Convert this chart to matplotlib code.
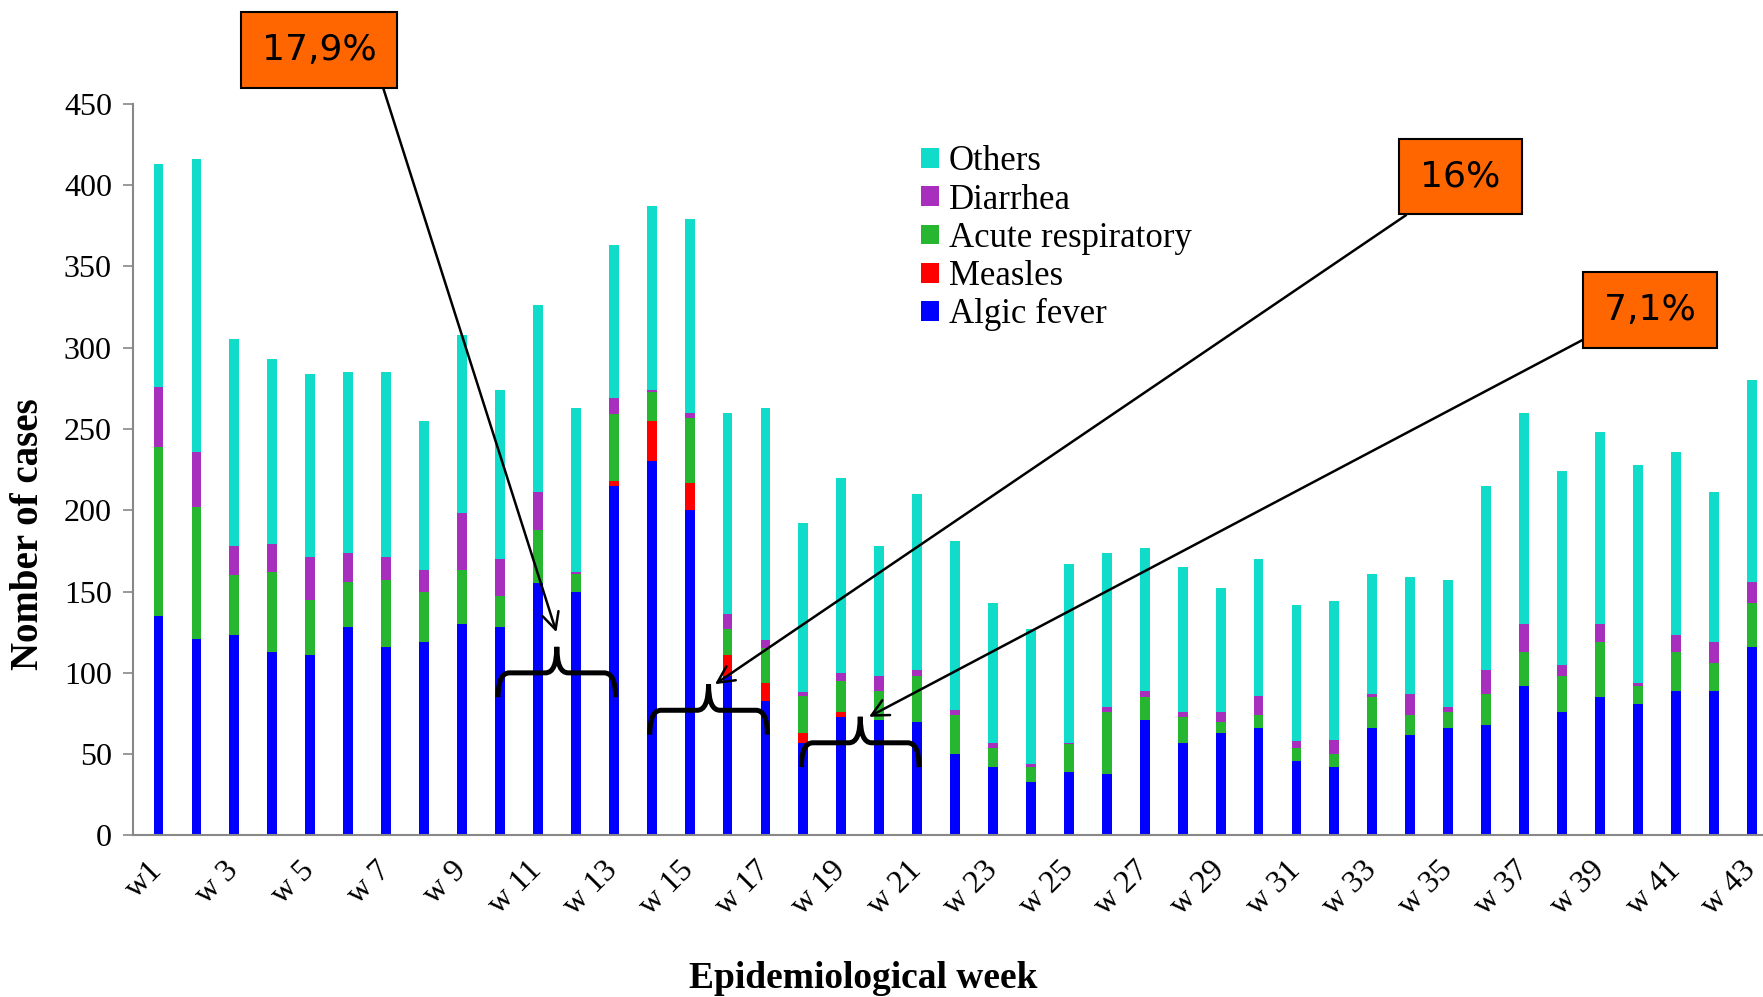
import matplotlib
matplotlib.use("Agg")
import matplotlib.pyplot as plt
import numpy as np
from matplotlib.patches import PathPatch
from matplotlib.path import Path

plt.rcParams["font.family"] = ["Liberation Serif", "DejaVu Serif"]

# weekly counts per syndrome (stack order: bottom to top)
weeks = np.arange(1, 44)
algic_fever = [135, 121, 123, 113, 111, 128, 116, 119, 130, 128, 155, 150, 215, 230, 200,
               98, 83, 57, 73, 71, 70, 50, 42, 33, 39, 38, 71, 57, 63, 66,
               46, 42, 66, 62, 66, 68, 92, 76, 85, 81, 89, 89, 116]
measles = [0, 0, 0, 0, 0, 0, 0, 0, 0, 0, 0, 0, 3, 25, 17,
           13, 11, 6, 3, 0, 0, 0, 0, 0, 0, 0, 0, 0, 0, 0,
           0, 0, 0, 0, 0, 0, 0, 0, 0, 0, 0, 0, 0]
acute_respiratory = [104, 81, 37, 49, 34, 28, 41, 31, 33, 19, 33, 11, 41, 18, 40,
                     16, 21, 23, 19, 18, 28, 24, 12, 9, 17, 38, 14, 16, 7, 8,
                     8, 8, 19, 12, 10, 19, 21, 22, 34, 11, 24, 17, 27]
diarrhea = [37, 34, 18, 17, 26, 18, 14, 13, 35, 23, 23, 1, 10, 1, 3,
            9, 5, 2, 5, 9, 4, 3, 3, 2, 1, 3, 4, 3, 6, 12,
            4, 9, 2, 13, 3, 15, 17, 7, 11, 2, 10, 13, 13]
others = [137, 180, 127, 114, 113, 111, 114, 92, 110, 104, 115, 101, 94, 113, 119,
          124, 143, 104, 120, 80, 108, 104, 86, 83, 110, 95, 88, 89, 76, 84,
          84, 85, 74, 72, 78, 113, 130, 119, 118, 134, 113, 92, 124]

series_names = ["Algic fever", "Measles", "Acute respiratory", "Diarrhea", "Others"]
series_colors = ["#0000FF", "#FF0000", "#27B62F", "#A82EBE", "#10DCC9"]

tick_weeks = weeks[::2]
tick_labels = ["w1"] + [f"w {w}" for w in tick_weeks[1:]]

# braces and call-outs
brace_weeks = [(10, 13), (14, 17), (18, 21)]
brace_levels = [100, 77, 57]
callout_texts = ["17,9%", "16%", "7,1%"]
callout_targets = [(11.49, 125), (15.67, 93), (19.73, 73)]
callout_boxes = [(0.181, 0.950), (0.8284, 0.823), (0.936, 0.689)]
callout_relpos = [(1.0, 0.0), (0.22, 0.0), (0.03, 0.0)]


def draw_brace(ax, x0, x1, y, drop=15, rise=16, dx=0.3):
    xc = (x0 + x1) / 2
    verts = [
        (x0, y - drop), (x0, y), (x0 + dx, y),
        (xc - dx, y),
        (xc, y), (xc, y + rise),
        (xc, y), (xc + dx, y),
        (x1 - dx, y),
        (x1, y), (x1, y - drop),
    ]
    codes = [Path.MOVETO, Path.CURVE3, Path.CURVE3, Path.LINETO,
             Path.CURVE3, Path.CURVE3, Path.CURVE3, Path.CURVE3,
             Path.LINETO, Path.CURVE3, Path.CURVE3]
    ax.add_patch(PathPatch(Path(verts, codes), fill=False, lw=3.6,
                           ec="black", zorder=5, capstyle="butt"))


fig = plt.figure(figsize=(17.63, 9.97), dpi=100)
ax = fig.add_axes([0.0753, 0.162, 0.9247, 0.734])

bottom = np.zeros(len(weeks))
handles = []
for name, values, color in zip(series_names,
                               [algic_fever, measles, acute_respiratory, diarrhea, others],
                               series_colors):
    bars = ax.bar(weeks, values, width=0.26, bottom=bottom, color=color,
                  label=name, zorder=2)
    handles.append(bars)
    bottom += np.array(values)

ax.set_xlim(0.32, 43.3)
ax.set_ylim(0, 450)
ax.set_yticks(np.arange(0, 451, 50))
ax.set_xticks(tick_weeks)
ax.set_xticklabels(tick_labels, rotation=45, ha="right", va="center",
                   rotation_mode="anchor", fontsize=23)
ax.tick_params(axis="x", length=0, pad=22)
ax.tick_params(axis="y", direction="out", length=7, width=1.2,
               color="#888888", labelsize=23, pad=8)

for side in ["top", "right"]:
    ax.spines[side].set_visible(False)
for side in ["left", "bottom"]:
    ax.spines[side].set_color("#888888")
    ax.spines[side].set_linewidth(1.5)

ax.set_ylabel("Nomber of cases", fontsize=28, fontweight="bold",
              va="center", ha="center")
ax.yaxis.set_label_coords(-0.064, 0.412)
ax.set_xlabel("Epidemiological week", fontsize=27, fontweight="bold",
              va="center", ha="center")
ax.xaxis.set_label_coords(0.448, -0.195)

leg = ax.legend(handles[::-1], series_names[::-1], loc="upper left",
                bbox_to_anchor=(0.5147, 0.868), bbox_transform=fig.transFigure,
                frameon=False, fontsize=25, handlelength=0.5, handleheight=0.5,
                handletextpad=0.3, labelspacing=0.15, borderaxespad=0)

for (w0, w1), level in zip(brace_weeks, brace_levels):
    draw_brace(ax, w0 - 0.05, w1 + 0.05, level)

for text, target, box, rel in zip(callout_texts, callout_targets,
                                  callout_boxes, callout_relpos):
    ax.annotate(text, xy=target, xycoords="data", xytext=box,
                textcoords="figure fraction", ha="center", va="center",
                fontsize=26, family="DejaVu Sans", annotation_clip=False,
                bbox=dict(boxstyle="square,pad=0.58", fc="#FF6600",
                          ec="black", lw=1.5),
                arrowprops=dict(arrowstyle="->", lw=1.8, color="black",
                                relpos=rel, shrinkA=0, shrinkB=0,
                                mutation_scale=30),
                zorder=6)

fig.savefig("out.png", dpi=100)
